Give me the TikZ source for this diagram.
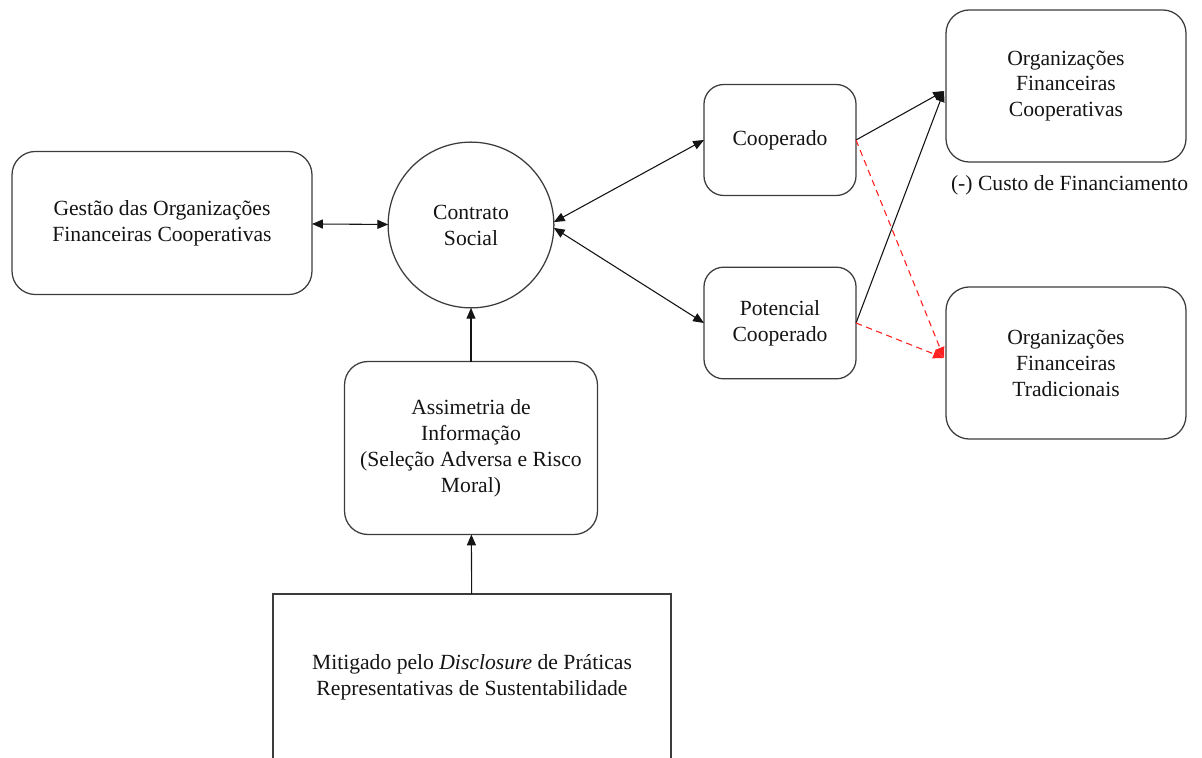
\documentclass[tikz,border=0pt]{standalone}
\usepackage{fontspec}
\setmainfont{Liberation Serif}
\usetikzlibrary{arrows.meta, positioning, calc}
\definecolor{InkBlack}{HTML}{141414}
\definecolor{FrameGrey}{HTML}{3c3c3c}
\definecolor{AlertRed}{HTML}{ff2020}

\begin{document}
\begin{tikzpicture}[x=0.555pt, y=-0.555pt,
        font=\fontsize{12pt}{14.4pt}\selectfont, text=InkBlack,
        roundbox/.style={draw=FrameGrey, line width=0.7pt, rounded corners=13pt, align=center, outer sep=0pt, inner sep=2pt},
        flow/.style={InkBlack, line width=0.6pt, -{Triangle[length=6pt, width=5pt]}},
        twoway/.style={flow, {Triangle[length=6pt, width=5pt]}-{Triangle[length=6pt, width=5pt]}},
        lowflow/.style={AlertRed, line width=0.6pt, dash pattern=on 3.5pt off 2.5pt, -{Triangle[length=6pt, width=5pt]}}]
            \useasboundingbox (0, 0) rectangle (1202, 758);
            \clip (0, 0) rectangle (1202, 758);

            % Central Contract
            \node[draw=FrameGrey, line width=0.7pt, circle, minimum size=92pt, align=center, outer sep=0pt] (social) at (471, 225) {Contrato\\Social};
            \node[roundbox, minimum width=166.5pt, minimum height=79.4pt] (gestao) at (162, 223) {Gestão das Organizações\\Financeiras Cooperativas};
            \node[roundbox, minimum width=140.4pt, minimum height=96pt] (assimetria) at (471, 448) {Assimetria de\\Informação\\(Seleção Adversa e Risco\\Moral)};
            \node[draw=FrameGrey, line width=0.7pt, minimum width=220.9pt, minimum height=92pt, align=center, outer sep=0pt] (disclosure) at (472, 677) {Mitigado pelo \textit{Disclosure} de Práticas\\Representativas de Sustentabilidade};

            % Members
            \node[roundbox, rounded corners=11pt, minimum width=84.4pt, minimum height=61.6pt] (coop) at (780, 140) {Cooperado};
            \node[roundbox, rounded corners=11pt, minimum width=84.4pt, minimum height=62pt] (potencial) at (780, 323) {Potencial\\Cooperado};

            % Lenders
            \node[roundbox, minimum width=133.2pt, minimum height=84.4pt] (ofc) at (1066, 86) {Organizações\\Financeiras\\Cooperativas};
            \node[roundbox, minimum width=133.2pt, minimum height=84.4pt] (oft) at (1066, 363) {Organizações\\Financeiras\\Tradicionais};
            \node[anchor=north, inner sep=0pt, xshift=2pt] (custo) at ($(ofc.south)+(0, 13)$) {(-) Custo de Financiamento};

            \draw[twoway] (gestao) -- (social);
            \draw[twoway] (social.2) -- (coop.west);
            \draw[twoway] (social.-2) -- (potencial.west);
            \draw[flow] (assimetria) -- (social);
            \draw[flow] (disclosure) -- (assimetria);
            \draw[flow] (coop.east) -- ($(ofc.west)+(-2, 5)$);
            \draw[flow] (potencial.east) -- ($(ofc.west)+(-2, 5)$);
            \draw[lowflow] (coop.east) -- ($(oft.west)+(-2, -5)$);
            \draw[lowflow] (potencial.east) -- ($(oft.west)+(-2, -5)$);
        \end{tikzpicture}
\end{document}
